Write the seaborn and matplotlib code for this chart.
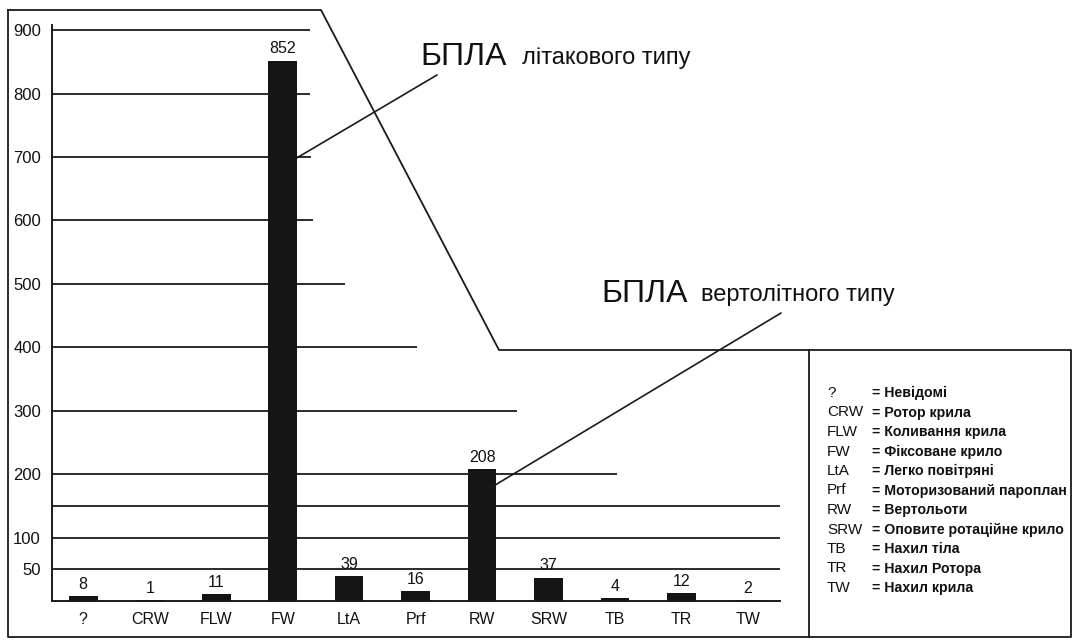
import numpy as np
import pandas as pd
import matplotlib
matplotlib.use("Agg")
import matplotlib.pyplot as plt
import seaborn as sns


# =====================================================
# DATA
# =====================================================

categories = ["?", "CRW", "FLW", "FW", "LtA", "Prf", "RW", "SRW", "TB", "TR", "TW"]

counts = [8, 1, 11, 852, 39, 16, 208, 37, 4, 12, 2]

ytick_values = [50, 100, 200, 300, 400, 500, 600, 700, 800, 900]

grid_levels = [900, 800, 700, 600, 500, 400, 300, 200, 150, 100, 50]

legend_codes = ["?", "CRW", "FLW", "FW", "LtA", "Prf", "RW", "SRW", "TB", "TR", "TW"]

legend_names = [
    "Невідомі",
    "Ротор крила",
    "Коливання крила",
    "Фіксоване крило",
    "Легко повітряні",
    "Моторизований пароплан",
    "Вертольоти",
    "Оповите ротаційне крило",
    "Нахил тіла",
    "Нахил Ротора",
    "Нахил крила",
]

df = pd.DataFrame({"type": categories, "count": counts})


# =====================================================
# STYLE
# =====================================================

sns.set_style("white")

plt.rcParams["font.family"] = ["Liberation Sans", "DejaVu Sans"]
plt.rcParams["text.color"] = "#111111"
plt.rcParams["xtick.color"] = "#111111"
plt.rcParams["ytick.color"] = "#111111"

BAR_COLOR = "#141414"
LINE_COLOR = "#1a1a1a"

W, H = 1076, 641

fig = plt.figure(figsize=(W / 100, H / 100), dpi=100)

# main plotting area (pixel box 52..780 x 25..601)
ax = fig.add_axes([52 / W, (H - 601) / H, 728 / W, 576 / H])


# =====================================================
# BARS
# =====================================================

sns.barplot(
    data=df,
    x="type",
    y="count",
    color=BAR_COLOR,
    width=0.43,
    saturation=1,
    linewidth=0,
    ax=ax,
    zorder=3,
)

ax.set_xlim(-0.47, 10.48)
ax.set_ylim(0, 908)

# gridlines of uneven length, cut by the frame shape
grid_ends = [3.41, 3.41, 3.42, 3.46, 3.94, 5.02, 6.53, 8.03, 10.48, 10.48, 10.48]

ax.hlines(grid_levels, xmin=-0.47, xmax=grid_ends, color=LINE_COLOR, lw=1.3, zorder=1)

for cont in ax.containers:
    ax.bar_label(cont, fmt="%d", padding=3, fontsize=11.5, color="#111111", zorder=4)

ax.set_yticks(ytick_values)
ax.set_yticklabels([str(v) for v in ytick_values], fontsize=12)
ax.tick_params(axis="y", length=0, pad=8)
ax.tick_params(axis="x", length=0, pad=8, labelsize=11.5)

ax.set_xlabel("")
ax.set_ylabel("")

for side in ["top", "right"]:
    ax.spines[side].set_visible(False)

ax.spines["left"].set_color(LINE_COLOR)
ax.spines["left"].set_linewidth(1.4)
ax.spines["bottom"].set_color(LINE_COLOR)
ax.spines["bottom"].set_linewidth(1.4)


# =====================================================
# FRAME OVERLAY (pixel coordinates)
# =====================================================

ov = fig.add_axes([0, 0, 1, 1], facecolor="none")
ov.set_xlim(0, W)
ov.set_ylim(H, 0)
ov.axis("off")

frame_x = [8, 321, 499, 1071, 1071, 8, 8]
frame_y = [10, 10, 350, 350, 637, 637, 10]
ov.plot(frame_x, frame_y, color=LINE_COLOR, lw=1.3)
ov.plot([809, 809], [350, 637], color=LINE_COLOR, lw=1.3)


# =====================================================
# CALLOUTS
# =====================================================

ov.text(420, 65, "БПЛА", fontsize=23, va="baseline", ha="left")
ov.text(522, 64, "літакового типу", fontsize=17, va="baseline", ha="left")

ov.text(601, 302, "БПЛА", fontsize=23, va="baseline", ha="left")
ov.text(701, 301, "вертолітного типу", fontsize=17, va="baseline", ha="left")

ax.annotate(
    "",
    xy=(3.14, 694),
    xycoords="data",
    xytext=(437, 75),
    textcoords=ov.transData,
    arrowprops=dict(arrowstyle="-", color=LINE_COLOR, lw=1.2, shrinkA=0, shrinkB=0),
    zorder=5,
)

ax.annotate(
    "",
    xy=(6.12, 178),
    xycoords="data",
    xytext=(781, 313),
    textcoords=ov.transData,
    arrowprops=dict(arrowstyle="-", color=LINE_COLOR, lw=1.2, shrinkA=0, shrinkB=0),
    zorder=5,
)


# =====================================================
# LEGEND BOX TEXT
# =====================================================

for i, (code, name) in enumerate(zip(legend_codes, legend_names)):
    y = 393 + i * 19.5
    ov.text(827, y, code, fontsize=11, va="center", ha="left")
    ov.text(872, y, "= " + name, fontsize=10.2, fontweight="bold", va="center", ha="left")


fig.savefig("out.png", dpi=100, facecolor="white")
plt.close(fig)
